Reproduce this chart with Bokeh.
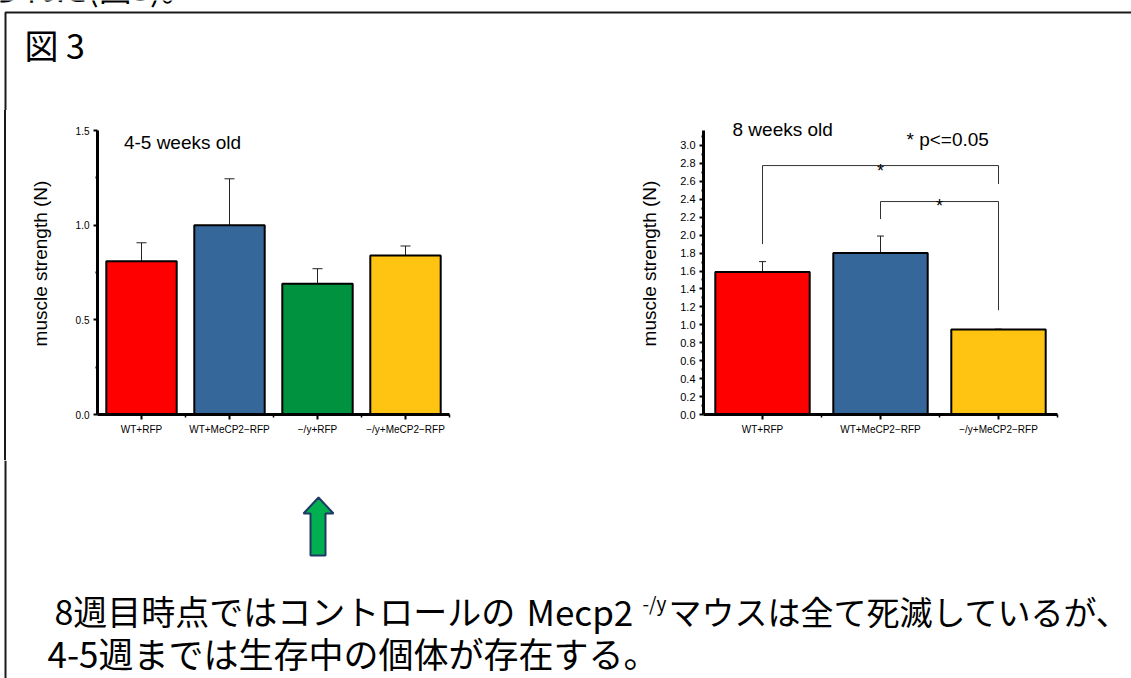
from bokeh.plotting import figure
from bokeh.models import (Range1d, LinearAxis, FixedTicker, Label, Whisker,
                          ColumnDataSource, TeeHead, PrintfTickFormatter, Div)
from bokeh.layouts import column, row
from bokeh.embed import file_html
from bokeh.resources import INLINE

# ---------------- data ----------------
cats1 = ["WT+RFP", "WT+MeCP2−RFP", "−/y+RFP", "−/y+MeCP2−RFP"]
vals1 = [0.81, 1.00, 0.69, 0.84]
errs1 = [0.097, 0.245, 0.08, 0.05]
colors1 = ["#FF0000", "#35679A", "#00923F", "#FFC311"]
yticks1 = [0.0, 0.5, 1.0, 1.5]
yminor1 = [0.25, 0.75, 1.25]

cats2 = ["WT+RFP", "WT+MeCP2−RFP", "−/y+MeCP2−RFP"]
vals2 = [1.59, 1.80, 0.947]
errs2 = [0.115, 0.19, 0.005]
colors2 = ["#FF0000", "#35679A", "#FFC311"]
yticks2 = [0.0, 0.2, 0.4, 0.6, 0.8, 1.0, 1.2, 1.4, 1.6, 1.8, 2.0, 2.2, 2.4, 2.6, 2.8, 3.0]
yminor2 = [0.1, 0.3, 0.5, 0.7, 0.9, 1.1, 1.3, 1.5, 1.7, 1.9, 2.1, 2.3, 2.5, 2.7, 2.9, 3.1]

# significance brackets (chart 2): category index pairs, bar height, leg ends
br_pairs = [(0, 2), (1, 2)]
br_level = [2.776, 2.375]
br_left_end = [1.90, 2.18]
br_right_end = [2.57, 1.163]

title1 = "4-5 weeks old"
title2 = "8 weeks old"
pnote = "* p<=0.05"
ylabel = "muscle strength (N)"
fig_title = "図 3"
prev_line = "られた(図3)。"
line1a = "8週目時点ではコントロールの"
line1b = "Mecp2"
line1sup = "-/y"
line1c = "マウスは全て死滅しているが、"
line2 = "4-5週までは生存中の個体が存在する。"

LATIN = "Liberation Sans"
CJK = "Noto Sans CJK JP"
FRAME = "#1a1a1a"


def make_chart(cats, vals, errs, colors, ymax, yticks, yminor, ybounds, fw, fh,
               mbl, mbr, mbt, mbb, tick_fs, head, lbl_standoff):
    n = len(cats)
    pos = [i + 0.5 for i in range(n)]
    p = figure(x_range=Range1d(0, n), y_range=Range1d(0, ymax),
               frame_width=fw, frame_height=fh,
               min_border_left=mbl, min_border_right=mbr, min_border_top=mbt,
               min_border_bottom=mbb, toolbar_location=None, output_backend="svg",
               x_axis_type=None, y_axis_type=None)
    p.outline_line_color = None
    p.grid.visible = False
    p.background_fill_color = "white"
    p.border_fill_color = "white"

    src = ColumnDataSource(dict(x=pos, top=vals,
                                upper=[v + e for v, e in zip(vals, errs)],
                                lower=[v - e for v, e in zip(vals, errs)],
                                color=colors))
    p.vbar(x="x", top="top", width=0.8, fill_color="color", line_color="black",
           line_width=2, source=src)
    w = Whisker(base="x", upper="upper", lower="lower", source=src,
                line_width=1, line_color="#222222",
                upper_head=TeeHead(size=head, line_width=1, line_color="#222222"),
                lower_head=TeeHead(size=head, line_width=1, line_color="#222222"))
    p.add_layout(w)

    ya = LinearAxis(ticker=FixedTicker(ticks=yticks, minor_ticks=yminor),
                    formatter=PrintfTickFormatter(format="%.1f"),
                    axis_label=ylabel, bounds=ybounds)
    ya.axis_line_width = 3
    ya.axis_line_color = "black"
    ya.major_tick_out = 4
    ya.major_tick_in = 0
    ya.major_tick_line_width = 2
    ya.minor_tick_out = 2
    ya.minor_tick_in = 0
    ya.minor_tick_line_width = 2
    ya.major_label_text_font = LATIN
    ya.major_label_text_font_size = tick_fs
    ya.major_label_text_color = "black"
    ya.major_label_standoff = 4
    ya.axis_label_text_font = LATIN
    ya.axis_label_text_font_size = "19px"
    ya.axis_label_text_font_style = "normal"
    ya.axis_label_text_color = "black"
    ya.axis_label_standoff = lbl_standoff
    p.add_layout(ya, "left")

    bounds = [i + 1.0 for i in range(n)]
    xa = LinearAxis(ticker=FixedTicker(ticks=pos, minor_ticks=bounds),
                    major_label_overrides={c: name for c, name in zip(pos, cats)})
    xa.axis_line_width = 3
    xa.axis_line_color = "black"
    xa.major_tick_out = 5
    xa.major_tick_in = 0
    xa.major_tick_line_width = 2
    xa.minor_tick_out = 3
    xa.minor_tick_in = 0
    xa.minor_tick_line_width = 1.5
    xa.major_label_text_font = LATIN
    xa.major_label_text_font_size = "10px"
    xa.major_label_text_color = "black"
    xa.major_label_standoff = 4
    p.add_layout(xa, "below")
    return p


# both charts: identical vertical borders and frame height (302 px)
c1 = make_chart(cats1, vals1, errs1, colors1, 302 / 189.33, yticks1, yminor1, (0, 1.5),
                352, 302, 91, 21, 2, 46, "10px", 10, 22)
c1.add_layout(Label(x=0.30, y=1.438, text=title1,
                    text_font=LATIN, text_font_size="19px", text_baseline="middle",
                    text_align="left", text_color="black"))

c2 = make_chart(cats2, vals2, errs2, colors2, 302 / 89.67, yticks2, yminor2, (0, 3.167),
                354, 302, 233, 74, 2, 46, "11px", 7, 17)
c2.add_layout(Label(x=0.246, y=3.178, text=title2,
                    text_font=LATIN, text_font_size="19px", text_baseline="middle",
                    text_align="left", text_color="black"))
c2.add_layout(Label(x=1.72, y=3.067, text=pnote,
                    text_font=LATIN, text_font_size="19px", text_baseline="middle",
                    text_align="left", text_color="black"))
bx, by = [], []
for (a, b), lv, le, re in zip(br_pairs, br_level, br_left_end, br_right_end):
    bx.append([a + 0.5, a + 0.5, b + 0.5, b + 0.5])
    by.append([le, lv, lv, re])
    c2.add_layout(Label(x=(a + b) / 2 + 0.5, y=lv - 0.055, text="*",
                        text_font=LATIN, text_font_size="18px", text_baseline="alphabetic",
                        text_align="center", text_color="black"))
c2.multi_line(xs=bx, ys=by, line_color="#333333", line_width=1)

# ---------------- header, strip & bottom panels ----------------
W = 1131


def blank(w, h, fill="white"):
    p = figure(width=w, height=h, x_range=Range1d(0, w), y_range=Range1d(h, 0),
               toolbar_location=None, output_backend="svg", x_axis_type=None,
               y_axis_type=None, min_border=0)
    p.outline_line_color = None
    p.grid.visible = False
    p.background_fill_color = fill
    p.border_fill_color = fill
    return p


head = blank(W, 110)
head.multi_line(xs=[[5, 5, W]], ys=[[110, 12, 12]], line_color=FRAME, line_width=2)
head.add_layout(Label(x=-12, y=-13.5, text=prev_line, text_font=CJK, text_font_size="33px",
                      text_baseline="middle", text_align="left", text_color="black"))
head.add_layout(Label(x=24, y=44, text=fig_title, text_font=CJK, text_font_size="34px",
                      text_baseline="middle", text_align="left", text_color="black"))

# left frame edge beside the charts: a plain 6 px element with a 2 px right border
strip = Div(text="", width=6, height=350, margin=0,
            styles={"box-sizing": "border-box", "border-right": "2px solid " + FRAME,
                    "background-color": "white", "padding": "0px"})

bot = blank(W, 218)
bot.multi_line(xs=[[5, 5]], ys=[[0, 218]], line_color=FRAME, line_width=2)
bot.patch(x=[318, 333, 325, 325, 310, 310, 303], y=[37, 53, 53, 95, 95, 53, 53],
          fill_color="#00B050", line_color="#203864", line_width=2)
for x, y, t, fs in [(54, 150, line1a, "34px"), (526, 150, line1b, "35px"),
                    (642, 141.5, line1sup, "19px"), (668, 150, line1c, "33px"),
                    (47, 192, line2, "35px")]:
    bot.add_layout(Label(x=x, y=y, text=t, text_font=CJK, text_font_size=fs,
                         text_baseline="middle", text_align="left", text_color="black"))

layout = column(head, row(strip, c1, c2), bot)

open("out.html", "w").write(file_html(layout, INLINE))
